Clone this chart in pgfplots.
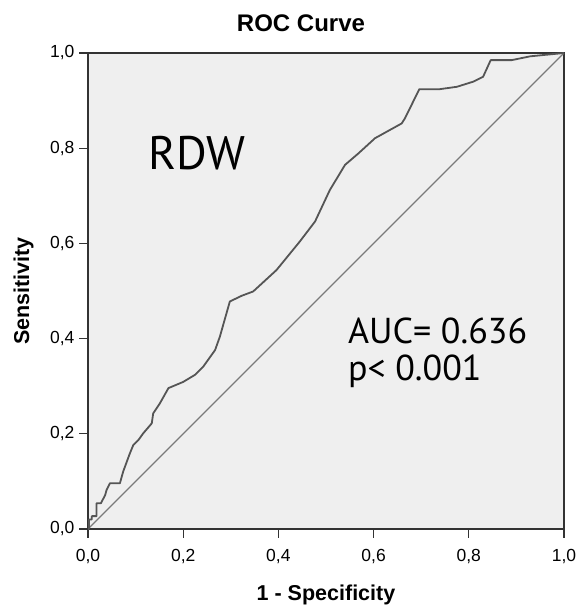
\documentclass[border=0pt]{standalone}
\usepackage{fontspec}
\setmainfont{Liberation Sans}
\newfontfamily\annfont{PT Sans}
\usepackage{pgfplots}
\pgfplotsset{compat=1.18}

\definecolor{plotbg}{HTML}{EFEFEF}
\definecolor{curvegray}{HTML}{555555}
\definecolor{diaggray}{HTML}{7A7A7A}
\definecolor{axisgray}{HTML}{333333}

% ROC curve of RDW
\pgfplotstableread{
fpr    tpr
0.000  0.000
0.002  0.000
0.002  0.020
0.008  0.020
0.008  0.027
0.018  0.027
0.018  0.054
0.027  0.054
0.036  0.071
0.039  0.082
0.046  0.096
0.067  0.096
0.074  0.121
0.088  0.159
0.095  0.176
0.106  0.187
0.116  0.201
0.134  0.222
0.137  0.243
0.151  0.264
0.169  0.296
0.200  0.309
0.225  0.324
0.242  0.341
0.267  0.376
0.277  0.404
0.298  0.478
0.323  0.490
0.347  0.499
0.396  0.544
0.445  0.604
0.477  0.646
0.508  0.712
0.540  0.765
0.568  0.789
0.603  0.821
0.659  0.852
0.666  0.863
0.696  0.924
0.739  0.924
0.775  0.929
0.810  0.940
0.830  0.950
0.846  0.985
0.890  0.985
0.929  0.993
1.000  1.000
}\roctable

\begin{document}
\begin{tikzpicture}[x=1pt, y=1pt]
\useasboundingbox (0,0) rectangle (576,607);
\begin{axis}[
  at={(88pt,78pt)}, anchor=south west,
  scale only axis, width=476pt, height=476pt,
  xmin=0, xmax=1, ymin=0, ymax=1,
  xtick={0,0.2,0.4,0.6,0.8,1}, ytick={0,0.2,0.4,0.6,0.8,1},
  tick pos=left, tick align=outside, major tick length=9pt,
  minor tick num=0,
  axis background/.style={fill=plotbg},
  axis line style={draw=axisgray, line width=1.2pt},
  tick style={draw=axisgray, line width=1.2pt},
  tick label style={font=\fontsize{17.5}{19}\selectfont},
  xticklabel style={yshift=-8pt},
  yticklabel style={xshift=-1pt},
  /pgf/number format/.cd, fixed, fixed zerofill, precision=1, use comma, assume math mode=true,
]
\addplot[diaggray, line width=1.1pt] coordinates {(0,0) (1,1)};
\addplot[curvegray, line width=1.8pt, line join=round] table[x=fpr, y=tpr] {\roctable};
\node[font=\annfont\fontsize{47}{50}\selectfont] at (axis cs:0.229,0.79) {RDW};
\node[font=\annfont\fontsize{36}{40}\selectfont, anchor=base west, inner sep=0pt] at (axis cs:0.546,0.39) {AUC= 0.636};
\node[font=\annfont\fontsize{36}{40}\selectfont, anchor=base west, inner sep=0pt] at (axis cs:0.546,0.313) {p< 0.001};
\end{axis}
\node[font=\bfseries\fontsize{24}{26}\selectfont, anchor=base] at (301,575) {ROC Curve};
\node[font=\bfseries\fontsize{21.5}{24}\selectfont, anchor=base] at (326,6) {1 - Specificity};
\node[font=\bfseries\fontsize{21.5}{24}\selectfont, anchor=base, rotate=90] at (29,316) {Sensitivity};
\end{tikzpicture}
\end{document}
